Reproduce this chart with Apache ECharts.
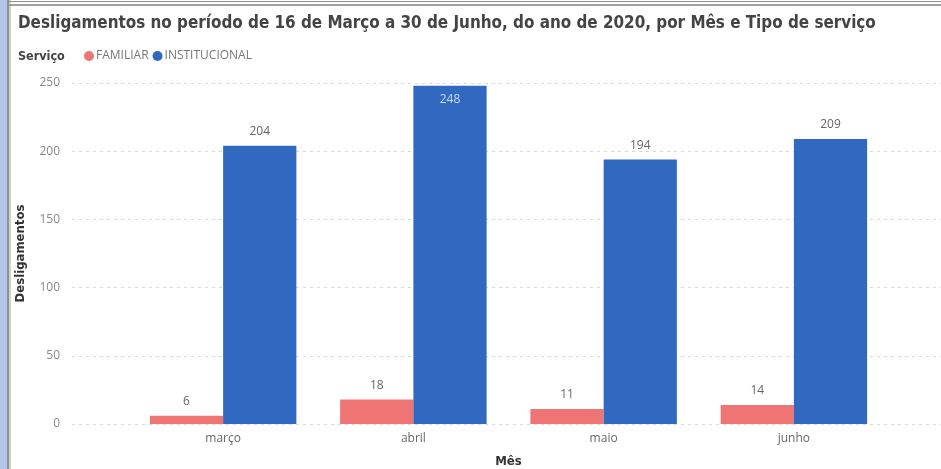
<!DOCTYPE html>
<html>
<head>
<meta charset="utf-8">
<script src="https://cdn.jsdelivr.net/npm/echarts@6/dist/echarts.min.js"></script>
<style>
  html, body { margin: 0; padding: 0; background: #fff; }
  #chart { width: 941px; height: 469px; }
</style>
</head>
<body>
<div id="chart"></div>
<script>
const months = ['março', 'abril', 'maio', 'junho'];
const familiar = [6, 18, 11, 14];
const institucional = [204, 248, 194, 209];
const yTicks = [0, 50, 100, 150, 200, 250];

const chart = echarts.init(document.getElementById('chart'));
const labelFont = '"Open Sans", "Noto Sans", sans-serif';
const boldFont = '"DejaVu Sans Condensed", sans-serif';

// 248 does not fit above the bar, so it goes inside like in Power BI
const instData = institucional.map(v => v > 240
    ? {value: v, label: {position: 'insideTop', color: '#cfdaf0', distance: 8}}
    : v);

const option = {
    animation: false,
    title: [
        {
            text: 'Desligamentos no período de 16 de Março a 30 de Junho, do ano de 2020, por Mês e Tipo de serviço',
            left: 13, top: 10,
            textStyle: {fontFamily: boldFont, fontWeight: 'bold', fontSize: 16.9, color: '#444'}
        },
        {
            text: 'Serviço',
            left: 13, top: 45,
            textStyle: {fontFamily: boldFont, fontWeight: 'bold', fontSize: 12.5, color: '#444'}
        }
    ],
    legend: {
        left: 79, top: 45,
        icon: 'circle',
        itemWidth: 10, itemHeight: 10, itemGap: 4,
        textStyle: {fontFamily: labelFont, fontSize: 12, color: '#777', padding: [0, 0, 0, -3]},
        data: ['FAMILIAR', 'INSTITUCIONAL']
    },
    graphic: [
        {type: 'rect', shape: {x: 0, y: 0, width: 7, height: 469}, style: {fill: '#b3c6e8'}},
        {type: 'rect', shape: {x: 7, y: 0, width: 2, height: 469}, style: {fill: '#8f8f8f'}},
        {type: 'rect', shape: {x: 9, y: 0, width: 2, height: 469}, style: {fill: '#d0d0d0'}},
        {type: 'rect', shape: {x: 9, y: 1, width: 932, height: 1}, style: {fill: '#909090'}},
        {type: 'rect', shape: {x: 9, y: 4, width: 932, height: 2}, style: {fill: '#a0a0a0'}}
    ],
    grid: [
        {left: 72, right: 0, top: 83, bottom: 45, outerBoundsMode: 'none'},
        {left: 128, right: 52, top: 83, bottom: 45, outerBoundsMode: 'none'}
    ],
    xAxis: [
        {gridIndex: 0, type: 'value', show: false},
        {
            gridIndex: 1, type: 'category', data: months,
            name: 'Mês', nameLocation: 'middle', nameGap: 31,
            nameTextStyle: {fontFamily: boldFont, fontWeight: 'bold', fontSize: 13, color: '#333'},
            axisLine: {show: false}, axisTick: {show: false},
            axisLabel: {fontFamily: labelFont, fontSize: 12, color: '#666', margin: 9}
        }
    ],
    yAxis: [
        {
            gridIndex: 0, type: 'value', min: 0, max: 250, interval: 50,
            name: 'Desligamentos', nameLocation: 'middle', nameGap: 45, nameRotate: 90,
            nameTextStyle: {fontFamily: boldFont, fontWeight: 'bold', fontSize: 13, color: '#333'},
            axisLine: {show: false}, axisTick: {show: false},
            axisLabel: {fontFamily: labelFont, fontSize: 12, color: '#888', margin: 12,
                formatter: v => yTicks.includes(v) ? String(v) : ''},
            splitLine: {lineStyle: {color: '#d8d8d8', type: [3, 4], width: 1}}
        },
        {gridIndex: 1, type: 'value', min: 0, max: 250, show: false}
    ],
    series: [
        {
            name: 'FAMILIAR', type: 'bar', xAxisIndex: 1, yAxisIndex: 1,
            data: familiar, barGap: '0%', barCategoryGap: '23%',
            itemStyle: {color: '#ef7575'},
            label: {show: true, position: 'top', distance: 8, fontFamily: labelFont, fontSize: 12, color: '#666'}
        },
        {
            name: 'INSTITUCIONAL', type: 'bar', xAxisIndex: 1, yAxisIndex: 1,
            data: instData, barGap: '0%', barCategoryGap: '23%',
            itemStyle: {color: '#3169c1'},
            label: {show: true, position: 'top', distance: 8, fontFamily: labelFont, fontSize: 12, color: '#666'}
        }
    ]
};

chart.setOption(option);
</script>
</body>
</html>
